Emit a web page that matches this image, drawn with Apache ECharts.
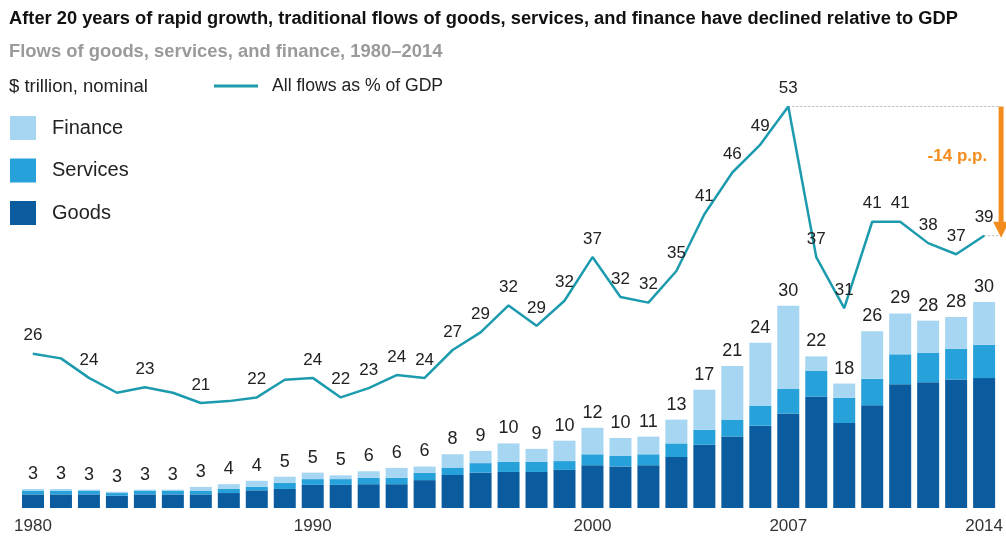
<!DOCTYPE html>
<html>
<head>
<meta charset="utf-8">
<script src="https://cdn.jsdelivr.net/npm/echarts@6/dist/echarts.min.js"></script>
<style>
html,body{margin:0;padding:0;background:#fff;}
#chart{width:1006px;height:536px;}
</style>
</head>
<body>
<div id="chart"></div>
<script>
const years = ['1980','1981','1982','1983','1984','1985','1986','1987','1988','1989','1990','1991','1992','1993','1994','1995','1996','1997','1998','1999','2000','2001','2002','2003','2004','2005','2006','2007','2008','2009','2010','2011','2012','2013','2014'];
const goods    = [2.0,2.0,2.0,1.8,2.0,2.0,2.0,2.2,2.6,2.8,3.4,3.4,3.5,3.5,4.1,4.85,5.2,5.3,5.3,5.6,6.3,6.1,6.3,7.5,9.3,10.5,12.1,13.9,16.4,12.5,15.1,18.2,18.5,18.9,19.1];
const services = [0.5,0.5,0.5,0.4,0.5,0.5,0.5,0.6,0.5,0.9,0.85,0.85,0.95,0.95,1.1,1.1,1.4,1.5,1.5,1.3,1.6,1.6,1.6,2.0,2.2,2.5,2.9,3.6,3.8,3.7,3.9,4.4,4.35,4.5,4.9];
const finance  = [0.3,0.3,0.2,0.2,0.2,0.2,0.6,0.7,0.9,0.9,0.95,0.55,0.95,1.45,0.9,1.95,1.8,2.7,1.9,3.0,3.9,2.6,2.6,3.5,5.9,7.9,9.3,12.25,2.1,2.1,7.0,6.0,4.7,4.7,6.3];
const totalLabels = [3,3,3,3,3,3,3,4,4,5,5,5,6,6,6,8,9,10,9,10,12,10,11,13,17,21,24,30,22,18,26,29,28,28,30];
const gdpShare = [26.3,25.8,23.7,22.1,22.7,22.1,21.0,21.2,21.6,23.5,23.7,21.6,22.6,24.0,23.7,26.7,28.6,31.5,29.3,32.0,36.7,32.4,31.8,35.2,41.3,45.8,48.8,52.9,36.7,31.2,40.5,40.5,38.2,37.0,39.0];
const shareLabelText = ['26',null,'24',null,'23',null,'21',null,'22',null,'24','22','23','24','24','27','29','32','29','32','37','32','32','35','41','46','49','53','37','31','41','41','38','37','39'];
const xTickLabels = ['1980','1990','2000','2007','2014'];

const FONT = '"Liberation Sans", Arial, Helvetica, sans-serif';
const C_GOODS = '#0b5c9e', C_SERV = '#27a1d9', C_FIN = '#a6d6f1', C_LINE = '#1d9bae', C_ORANGE = '#f28c1e';

const chart = echarts.init(document.getElementById('chart'), null, {renderer: 'canvas'});

const option = {
  backgroundColor: '#fff',
  animation: false,
  textStyle: {fontFamily: FONT},
  title: [
    {text: 'After 20 years of rapid growth, traditional flows of goods, services, and finance have declined relative to GDP',
     left: 4, top: 5, textStyle: {fontFamily: FONT, fontSize: 18.3, fontWeight: 'bold', color: '#111'}},
    {text: 'Flows of goods, services, and finance, 1980–2014',
     left: 4, top: 38, textStyle: {fontFamily: FONT, fontSize: 18.4, fontWeight: 'bold', color: '#9a9a9a'}},
    {text: '$ trillion, nominal',
     left: 4, top: 72, textStyle: {fontFamily: FONT, fontSize: 18.5, fontWeight: 'normal', color: '#222'}}
  ],
  legend: [
    {data: ['All flows as % of GDP'], left: 209, top: 72, itemWidth: 44, itemHeight: 3, icon: 'rect',
     textStyle: {fontFamily: FONT, fontSize: 17.6, color: '#222', padding: [0,0,0,9]}},
    {data: ['Finance','Services','Goods'], orient: 'vertical', left: 5, top: 111, itemWidth: 26, itemHeight: 24,
     itemGap: 18.5, icon: 'rect', textStyle: {fontFamily: FONT, fontSize: 20, color: '#222', padding: [0,0,0,11]}}
  ],
  grid: {left: 19, right: 7, top: 100, bottom: 28},
  xAxis: {
    type: 'category', data: years,
    axisLine: {show: false}, axisTick: {show: false},
    axisLabel: {interval: 0, margin: 10, fontFamily: FONT, fontSize: 17, color: '#333',
      formatter: v => xTickLabels.includes(v) ? v : ''}
  },
  yAxis: [
    {type: 'value', min: 0, max: 60, show: false},
    {type: 'value', min: 9.7, max: 53.6, show: false}
  ],
  series: [
    {name: 'Goods', type: 'bar', stack: 'f', barWidth: 22, data: goods, itemStyle: {color: C_GOODS}},
    {name: 'Services', type: 'bar', stack: 'f', barWidth: 22, data: services, itemStyle: {color: C_SERV}},
    {name: 'Finance', type: 'bar', stack: 'f', barWidth: 22, data: finance, itemStyle: {color: C_FIN},
     label: {show: true, position: 'top', distance: 6, fontFamily: FONT, fontSize: 18, color: '#222',
       formatter: p => String(totalLabels[p.dataIndex])}},
    {name: 'All flows as % of GDP', type: 'line', yAxisIndex: 1, symbol: 'circle', symbolSize: 1, showSymbol: true,
     smooth: false, lineStyle: {color: C_LINE, width: 2.5}, itemStyle: {color: C_LINE},
     data: gdpShare.map((v, i) => ({value: v, label: {show: shareLabelText[i] !== null}})),
     label: {show: true, position: 'top', distance: 9, fontFamily: FONT, fontSize: 17, color: '#222',
       formatter: p => shareLabelText[p.dataIndex] || ''}}
  ]
};
chart.setOption(option);

// Annotation: peak-to-latest change, positioned from data via the axes
const iPeak = years.indexOf('2007'), iLast = years.length - 1;
const pPeak = chart.convertToPixel({seriesIndex: 3}, [iPeak, gdpShare[iPeak]]);
const pLast = chart.convertToPixel({seriesIndex: 3}, [iLast, gdpShare[iLast]]);
const xEnd = pLast[0] + 16;
const xArrow = pLast[0] + 17;
const change = Number(shareLabelText[iLast]) - Number(shareLabelText[iPeak]);
chart.setOption({
  graphic: [
    {type: 'line', shape: {x1: pPeak[0], y1: pPeak[1], x2: xEnd, y2: pPeak[1]},
     style: {stroke: '#b5b5b5', lineWidth: 1, lineDash: [2, 2]}, z: 1},
    {type: 'line', shape: {x1: pLast[0], y1: pLast[1], x2: xEnd, y2: pLast[1]},
     style: {stroke: '#b5b5b5', lineWidth: 1, lineDash: [2, 2]}, z: 1},
    {type: 'line', shape: {x1: xArrow, y1: pPeak[1], x2: xArrow, y2: pLast[1] - 12},
     style: {stroke: C_ORANGE, lineWidth: 5}, z: 5},
    {type: 'polygon', shape: {points: [[xArrow - 8, pLast[1] - 14], [xArrow + 8, pLast[1] - 14], [xArrow, pLast[1] + 2]]},
     style: {fill: C_ORANGE}, z: 5},
    {type: 'text', x: xArrow - 14, y: (pPeak[1] + pLast[1]) / 2 - 15,
     style: {text: change + ' p.p.', fill: C_ORANGE, font: 'bold 17px ' + FONT, textAlign: 'right', textVerticalAlign: 'middle'}, z: 5}
  ]
});
</script>
</body>
</html>
